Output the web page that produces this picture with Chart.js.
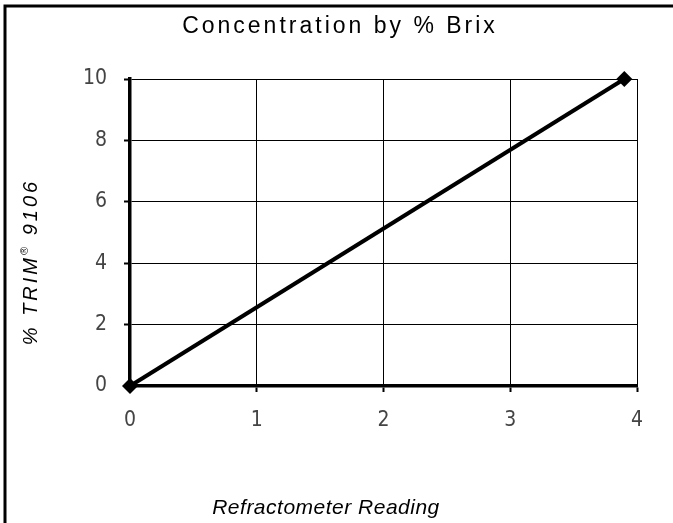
<!DOCTYPE html>
<html>
<head>
<meta charset="utf-8">
<script src="https://cdn.jsdelivr.net/npm/chart.js@4/dist/chart.umd.min.js"></script>
<style>
  html, body { margin: 0; padding: 0; background: #fff; }
  #wrap { width: 673px; height: 523px; position: relative; }
</style>
</head>
<body>
<div id="wrap"><canvas id="brixChart"></canvas></div>
<script>
// Concentration by % Brix

var chartTitle = 'Concentration by % Brix';
var xTitle = 'Refractometer Reading';
var yTitleMain = '% TRIM';
var yTitleMark = '\u00AE';
var yTitleTail = ' 9106';

var brixReading = [0, 3.9];
var trimPercent = [0, 10];
var xTicks = [0, 1, 2, 3, 4];
var yTicks = [0, 2, 4, 6, 8, 10];

var tickFont = { family: "'DejaVu Sans Condensed', 'Liberation Sans', sans-serif", size: 21 };
var titleFamily = "'Liberation Sans', Arial, sans-serif";

// frame + titles drawn by hand (Excel-style spacing)
var frameAndTitles = {
  id: 'frameAndTitles',
  beforeDraw: function(chart) {
    var ctx = chart.ctx;
    ctx.save();
    ctx.fillStyle = '#fff';
    ctx.fillRect(0, 0, chart.width, chart.height);
    ctx.strokeStyle = '#000';
    ctx.lineWidth = 3;
    ctx.beginPath();
    ctx.moveTo(5, chart.height);
    ctx.lineTo(5, 6);
    ctx.lineTo(chart.width, 6);
    ctx.stroke();
    ctx.restore();
  },
  afterDraw: function(chart) {
    var ctx = chart.ctx;
    ctx.save();
    ctx.fillStyle = '#000';
    ctx.textBaseline = 'middle';
    ctx.textAlign = 'left';

    // chart title
    ctx.font = '23px ' + titleFamily;
    ctx.letterSpacing = '3px';
    var w = ctx.measureText(chartTitle).width;
    ctx.fillText(chartTitle, 340 - w / 2, 27);

    // x title
    ctx.font = 'italic 21px ' + titleFamily;
    ctx.letterSpacing = '0.5px';
    w = ctx.measureText(xTitle).width;
    ctx.fillText(xTitle, 326 - w / 2, 508);

    // y title, rotated, with superscript mark
    ctx.translate(31, 262);
    ctx.rotate(-Math.PI / 2);
    ctx.letterSpacing = '3px';
    ctx.font = 'italic 20px ' + titleFamily;
    var w1 = ctx.measureText(yTitleMain).width;
    var w3 = ctx.measureText(yTitleTail).width;
    ctx.font = 'italic 11px ' + titleFamily;
    var w2 = ctx.measureText(yTitleMark).width;
    var x0 = -(w1 + w2 + w3) / 2;
    ctx.font = 'italic 20px ' + titleFamily;
    ctx.fillText(yTitleMain, x0, 0);
    ctx.font = 'italic 11px ' + titleFamily;
    ctx.fillText(yTitleMark, x0 + w1, -6);
    ctx.font = 'italic 20px ' + titleFamily;
    ctx.fillText(yTitleTail, x0 + w1 + w2, 0);
    ctx.restore();
  }
};

new Chart(document.getElementById('brixChart').getContext('2d'), {
  type: 'line',
  data: {
    datasets: [{
      label: '% TRIM 9106',
      data: brixReading.map(function(x, i) { return { x: x, y: trimPercent[i] }; }),
      borderColor: '#000',
      backgroundColor: '#000',
      borderWidth: 4,
      pointStyle: 'rectRot',
      pointRadius: 8,
      pointBorderWidth: 0,
      pointBackgroundColor: '#000',
      tension: 0,
      clip: false
    }]
  },
  options: {
    responsive: true,
    maintainAspectRatio: false,
    animation: false,
    devicePixelRatio: 1,
    layout: { autoPadding: false, padding: { left: 0, right: 36, top: 79, bottom: 0 } },
    plugins: { legend: { display: false }, tooltip: { enabled: false }, title: { display: false } },
    scales: {
      x: {
        type: 'linear',
        min: xTicks[0], max: xTicks[xTicks.length - 1],
        afterFit: function(s) { s.height = 137; },
        afterBuildTicks: function(s) { s.ticks = xTicks.map(function(v) { return { value: v }; }); },
        ticks: { color: '#444', font: tickFont, padding: 16, maxRotation: 0 },
        grid: { color: '#000', lineWidth: 1, tickLength: 6, tickColor: '#000', tickWidth: 2 },
        border: { color: '#000', width: 3.5 }
      },
      y: {
        min: yTicks[0], max: yTicks[yTicks.length - 1],
        afterFit: function(s) { s.width = 130; },
        afterBuildTicks: function(s) { s.ticks = yTicks.map(function(v) { return { value: v }; }); },
        ticks: { color: '#444', font: tickFont, padding: 17 },
        grid: { color: '#000', lineWidth: 1, tickLength: 6, tickColor: '#000', tickWidth: 2 },
        border: { color: '#000', width: 3.5 }
      }
    }
  },
  plugins: [frameAndTitles]
});
</script>
</body>
</html>
